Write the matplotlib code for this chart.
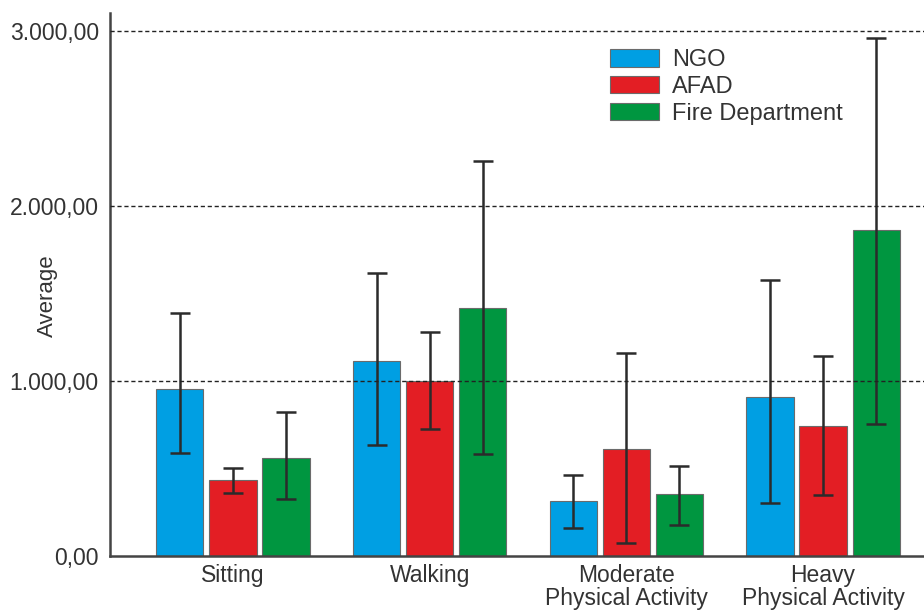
import numpy as np
import matplotlib
matplotlib.use("Agg")
import matplotlib.pyplot as plt

plt.rcParams['font.family'] = ['Liberation Sans', 'DejaVu Sans']

categories = ["Sitting", "Walking", "Moderate\nPhysical Activity", "Heavy\nPhysical Activity"]
groups = ["NGO", "AFAD", "Fire Department"]

# means and the ends of the error bars
ngo = [955, 1115, 313, 911]
ngo_lo = [590, 635, 162, 301]
ngo_hi = [1391, 1618, 462, 1579]

afad = [433, 998, 614, 742]
afad_lo = [360, 726, 74, 350]
afad_hi = [503, 1278, 1162, 1140]

fire = [560, 1414, 356, 1865]
fire_lo = [328, 583, 176, 752]
fire_hi = [825, 2256, 515, 2961]

yticks = [0, 1000, 2000, 3000]
ytick_labels = ["0,00", "1.000,00", "2.000,00", "3.000,00"]

colors = ["#009fe3", "#e31e24", "#009640"]
text_col = "#333333"

fig = plt.figure(figsize=(9.24, 6.13), dpi=100)
ax = fig.add_axes([0.119, 0.093, 0.881, 0.886])

x = np.arange(len(categories))
width = 0.24
step = 0.27

series = [(ngo, ngo_lo, ngo_hi), (afad, afad_lo, afad_hi), (fire, fire_lo, fire_hi)]
for i, (vals, lo, hi) in enumerate(series):
    vals = np.array(vals)
    err = np.vstack([vals - np.array(lo), np.array(hi) - vals])
    pos = x + (i - 1) * step
    ax.bar(pos, vals, width, color=colors[i], edgecolor="#6b6b6b",
           linewidth=0.8, label=groups[i], zorder=2)
    ax.errorbar(pos, vals, yerr=err, fmt="none", ecolor="#2b2b2b",
                elinewidth=1.8, capsize=7, capthick=1.8, zorder=3)

# dashed reference lines over the bars
for yv in yticks[1:]:
    ax.axhline(yv, color="#222222", linestyle=(0, (3, 2)), linewidth=1.0, zorder=4)

ax.set_xlim(-0.625, 3.513)
ax.set_ylim(0, 3103)

ax.set_yticks(yticks)
ax.set_yticklabels(ytick_labels)
ax.set_xticks(x)
ax.set_xticklabels(categories, linespacing=1.0)
ax.tick_params(axis="both", length=0, labelsize=16.5, colors=text_col)
ax.tick_params(axis="y", pad=8)
ax.tick_params(axis="x", pad=6)

ax.set_ylabel("Average", fontsize=16, color=text_col)
ax.yaxis.set_label_coords(-0.064, 0.48)

for s in ["top", "right"]:
    ax.spines[s].set_visible(False)
for s in ["left", "bottom"]:
    ax.spines[s].set_color("#444444")
    ax.spines[s].set_linewidth(1.8)

ax.legend(loc="upper left", bbox_to_anchor=(0.588, 0.972), frameon=False,
          fontsize=17, handlelength=2.1, handleheight=0.75,
          labelspacing=0.2, handletextpad=0.55, labelcolor=text_col)

fig.savefig("out.png", dpi=100)
